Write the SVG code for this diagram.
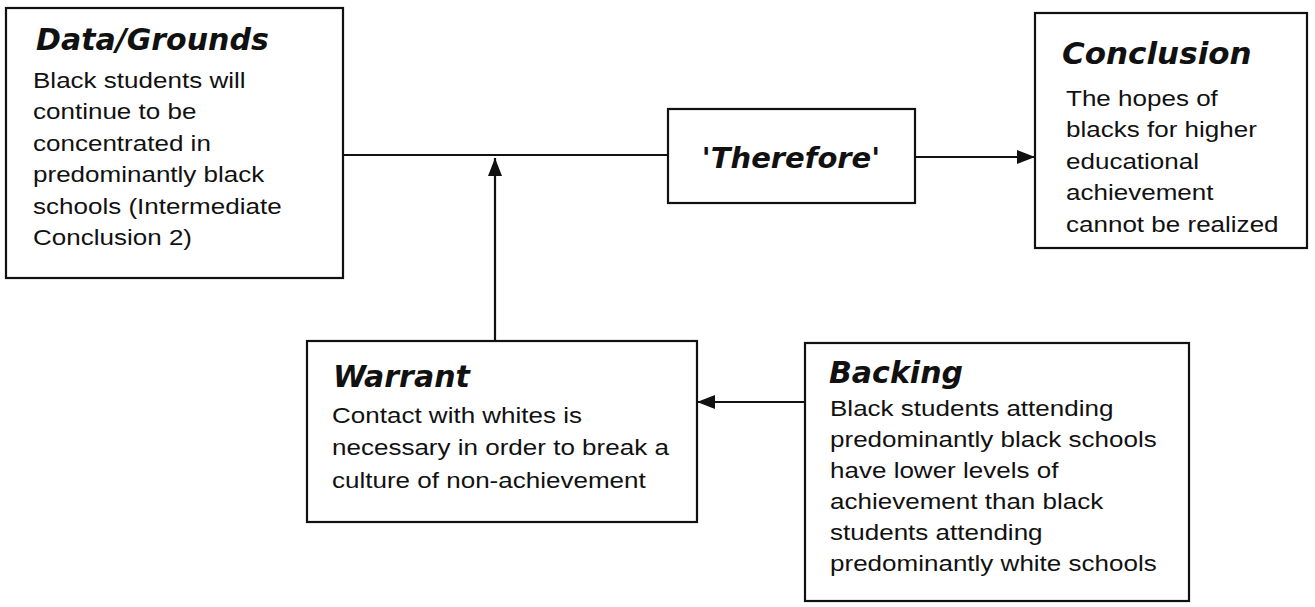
<svg xmlns="http://www.w3.org/2000/svg" width="1315" height="607" viewBox="0 0 1315 607">
  <style>
    .box { fill: #ffffff; stroke: #111111; stroke-width: 2.2; }
    .title { font-family: "DejaVu Sans", "Liberation Sans", sans-serif; font-weight: bold; font-style: oblique; font-size: 30px; fill: #111111; }
    .body { font-family: "Liberation Sans", Arial, sans-serif; font-size: 21.5px; fill: #111111; }
    .conn { fill: none; stroke: #111111; stroke-width: 2.2; }
  </style>
  <defs>
    <marker id="arrow" viewBox="0 0 18 14" refX="18" refY="7" markerWidth="18" markerHeight="14" markerUnits="userSpaceOnUse" orient="auto">
      <path d="M0,0 L18,7 L0,14 Z" fill="#111111"/>
    </marker>
  </defs>
  <rect width="1315" height="607" fill="#ffffff"/>

  <g id="connectors">
    <line class="conn" x1="343" y1="155" x2="668" y2="155"/>
    <line class="conn" x1="915" y1="157" x2="1035" y2="157" marker-end="url(#arrow)"/>
    <line class="conn" x1="495" y1="341" x2="495" y2="158" marker-end="url(#arrow)"/>
    <line class="conn" x1="805" y1="402" x2="697" y2="402" marker-end="url(#arrow)"/>
  </g>

  <g id="data-grounds">
    <rect class="box" x="6" y="8" width="337" height="270"/>
    <text class="title" x="36" y="50">Data/Grounds</text>
    <text class="body" transform="translate(33,88) scale(1.21,1)">
      <tspan x="0" dy="0">Black students will</tspan>
      <tspan x="0" dy="31.5">continue to be</tspan>
      <tspan x="0" dy="31.5">concentrated in</tspan>
      <tspan x="0" dy="31.5">predominantly black</tspan>
      <tspan x="0" dy="31.5">schools (Intermediate</tspan>
      <tspan x="0" dy="31.5">Conclusion 2)</tspan>
    </text>
  </g>

  <g id="therefore">
    <rect class="box" x="668" y="109" width="247" height="94"/>
    <text class="title" x="791" y="168" text-anchor="middle" style="font-size:29px">'Therefore'</text>
  </g>

  <g id="conclusion">
    <rect class="box" x="1035" y="13" width="272" height="235"/>
    <text class="title" x="1062" y="64" style="font-size:31px">Conclusion</text>
    <text class="body" transform="translate(1066,106) scale(1.21,1)">
      <tspan x="0" dy="0">The hopes of</tspan>
      <tspan x="0" dy="31.5">blacks for higher</tspan>
      <tspan x="0" dy="31.5">educational</tspan>
      <tspan x="0" dy="31.5">achievement</tspan>
      <tspan x="0" dy="31.5">cannot be realized</tspan>
    </text>
  </g>

  <g id="warrant">
    <rect class="box" x="307" y="341" width="390" height="181"/>
    <text class="title" x="333" y="387">Warrant</text>
    <text class="body" transform="translate(332,423) scale(1.21,1)">
      <tspan x="0" dy="0">Contact with whites is</tspan>
      <tspan x="0" dy="32.5">necessary in order to break a</tspan>
      <tspan x="0" dy="32.5">culture of non-achievement</tspan>
    </text>
  </g>

  <g id="backing">
    <rect class="box" x="805" y="343" width="384" height="258"/>
    <text class="title" x="829" y="383">Backing</text>
    <text class="body" transform="translate(830,416) scale(1.21,1)">
      <tspan x="0" dy="0">Black students attending</tspan>
      <tspan x="0" dy="31">predominantly black schools</tspan>
      <tspan x="0" dy="31">have lower levels of</tspan>
      <tspan x="0" dy="31">achievement than black</tspan>
      <tspan x="0" dy="31">students attending</tspan>
      <tspan x="0" dy="31">predominantly white schools</tspan>
    </text>
  </g>
</svg>
